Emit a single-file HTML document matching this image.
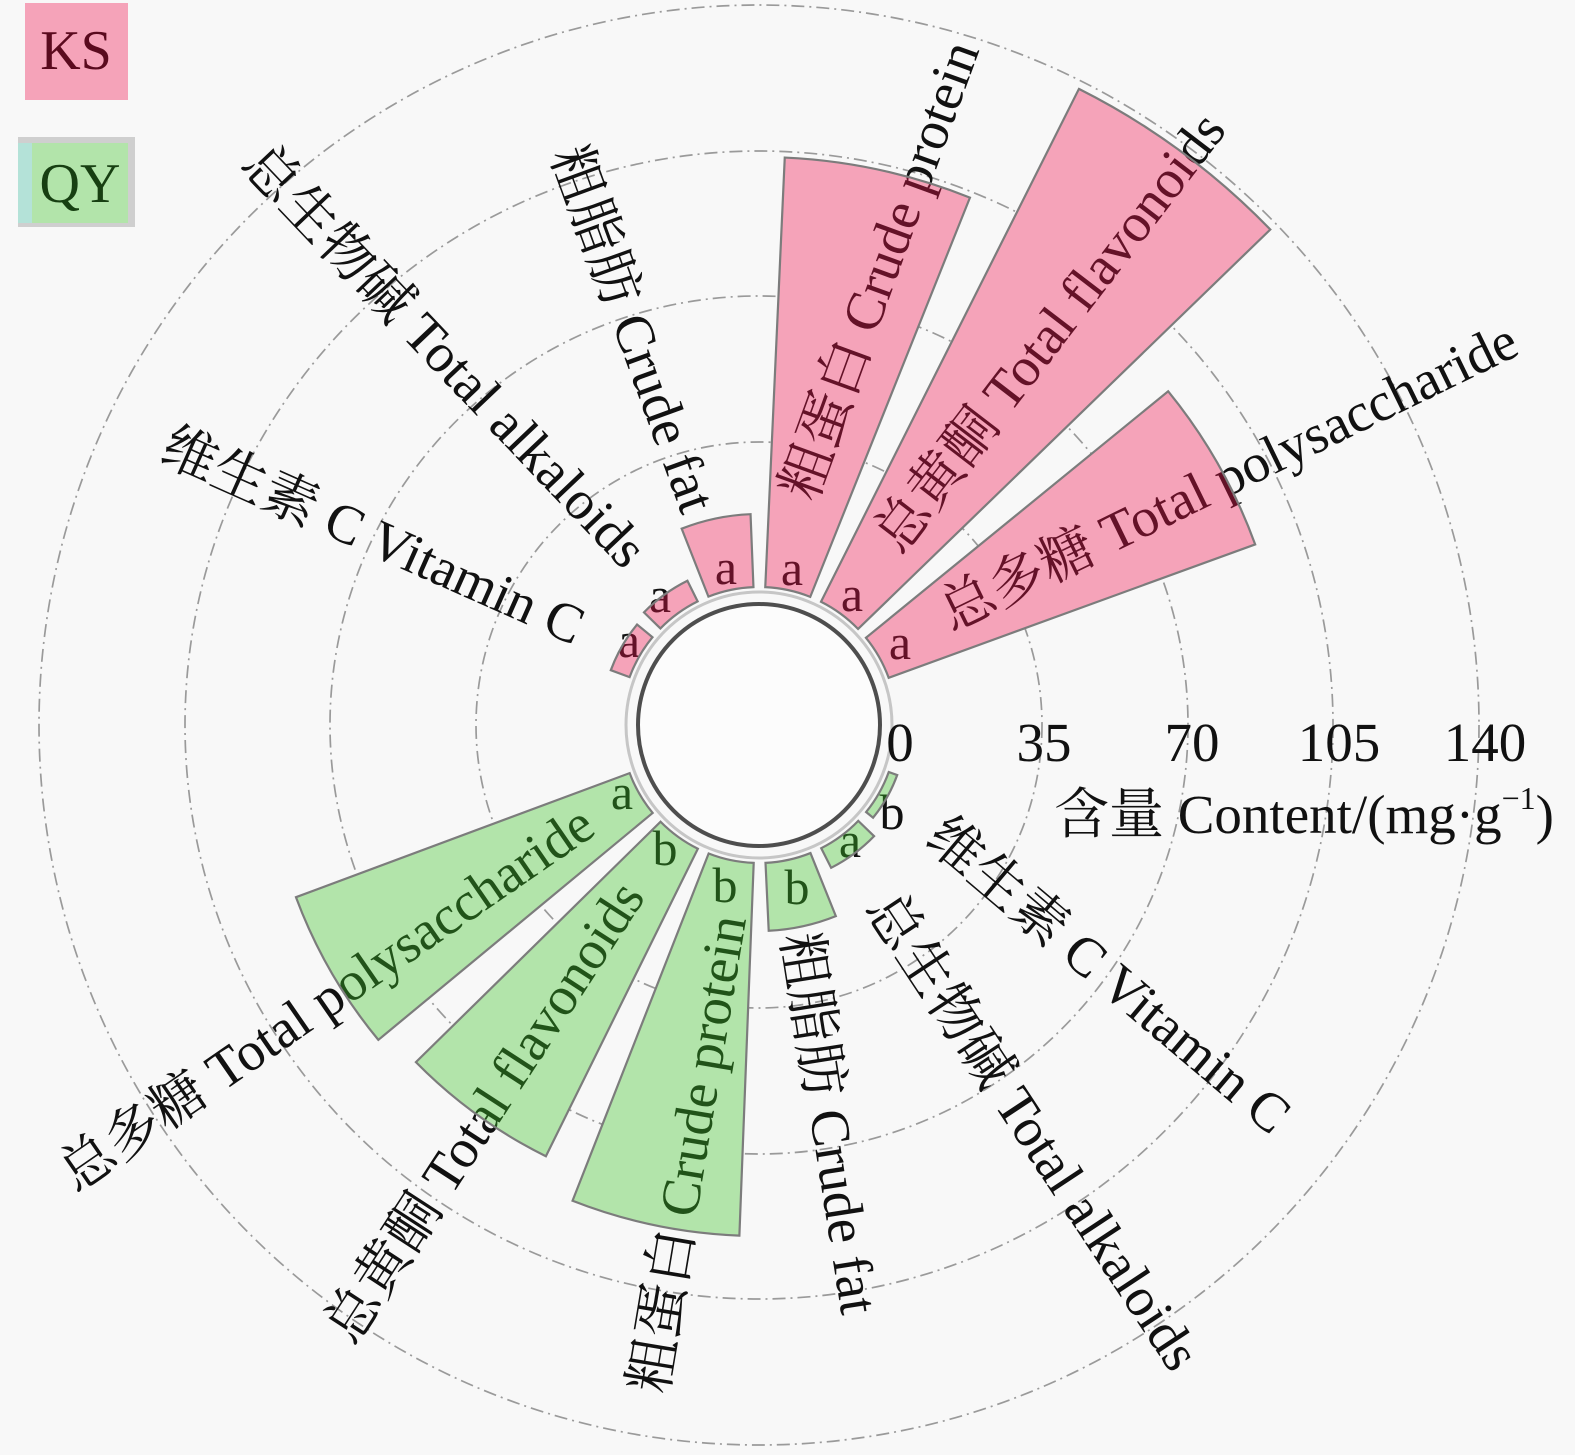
<!DOCTYPE html>
<html>
<head>
<meta charset="utf-8">
<style>
  html,body{margin:0;padding:0;background:#f8f8f8;}
  svg{display:block;}
  text{font-family:"Liberation Serif","Noto Serif CJK SC","Noto Sans CJK SC",serif;}
</style>
</head>
<body>
<svg width="1575" height="1455" viewBox="0 0 1575 1455" xmlns="http://www.w3.org/2000/svg">
  <defs>
    <!-- KS bars -->
    <path id="k1" transform="translate(759 725) rotate(-29.6)" d="M136.07 -23.01 L520.61 -88.05 A528 528 0 0 1 520.61 88.05 L136.07 23.01 A138 138 0 0 0 136.07 -23.01 Z"/>
    <path id="k2" transform="translate(759 725) rotate(-53.7)" d="M136.07 -23.01 L702.03 -118.74 A712 712 0 0 1 702.03 118.74 L136.07 23.01 A138 138 0 0 0 136.07 -23.01 Z"/>
    <path id="k3" transform="translate(759 725) rotate(-77.8)" d="M136.07 -23.01 L560.05 -94.73 A568 568 0 0 1 560.05 94.73 L136.07 23.01 A138 138 0 0 0 136.07 -23.01 Z"/>
    <path id="k4" transform="translate(759 725) rotate(-101.9)" d="M136.07 -23.01 L208.05 -35.19 A211 211 0 0 1 208.05 35.19 L136.07 23.01 A138 138 0 0 0 136.07 -23.01 Z"/>
    <path id="k5" transform="translate(759 725) rotate(-126.0)" d="M136.07 -23.01 L158.75 -26.85 A161 161 0 0 1 158.75 26.85 L136.07 23.01 A138 138 0 0 0 136.07 -23.01 Z"/>
    <path id="k6" transform="translate(759 725) rotate(-150.1)" d="M136.07 -23.01 L155.79 -26.35 A158 158 0 0 1 155.79 26.35 L136.07 23.01 A138 138 0 0 0 136.07 -23.01 Z"/>
    <!-- QY bars -->
    <path id="q1" transform="translate(759 725) rotate(-210)" d="M136.07 -23.01 L487.08 -82.38 A494 494 0 0 1 487.08 82.38 L136.07 23.01 A138 138 0 0 0 136.07 -23.01 Z"/>
    <path id="q2" transform="translate(759 725) rotate(-234.1)" d="M136.07 -23.01 L474.27 -80.22 A481 481 0 0 1 474.27 80.22 L136.07 23.01 A138 138 0 0 0 136.07 -23.01 Z"/>
    <path id="q3" transform="translate(759 725) rotate(-258.2)" d="M136.07 -23.01 L503.85 -85.22 A511 511 0 0 1 503.85 85.22 L136.07 23.01 A138 138 0 0 0 136.07 -23.01 Z"/>
    <path id="q4" transform="translate(759 725) rotate(-282.3)" d="M136.07 -23.01 L203.12 -34.35 A206 206 0 0 1 203.12 34.35 L136.07 23.01 A138 138 0 0 0 136.07 -23.01 Z"/>
    <path id="q5" transform="translate(759 725) rotate(-306.4)" d="M136.07 -23.01 L157.76 -26.68 A160 160 0 0 1 157.76 26.68 L136.07 23.01 A138 138 0 0 0 136.07 -23.01 Z"/>
    <path id="q6" transform="translate(759 725) rotate(-330.5)" d="M136.07 -23.01 L144.94 -24.52 A147 147 0 0 1 144.94 24.52 L136.07 23.01 A138 138 0 0 0 136.07 -23.01 Z"/>
  </defs>

  <rect x="0" y="0" width="1575" height="1455" fill="#f8f8f8"/>

  <!-- grid circles -->
  <g fill="none" stroke="#9a9a9a" stroke-width="1.7" stroke-dasharray="13 5 2 5">
    <circle cx="759" cy="725" r="283"/>
    <circle cx="759" cy="725" r="429"/>
    <circle cx="759" cy="725" r="574"/>
    <circle cx="759" cy="725" r="720"/>
  </g>
  <circle cx="759" cy="725" r="133" fill="none" stroke="#c6c6c6" stroke-width="3"/>

  <!-- opaque bar backgrounds (hide grid) -->
  <g fill="#f8f8f8">
    <use href="#k1"/><use href="#k2"/><use href="#k3"/><use href="#k4"/><use href="#k5"/><use href="#k6"/>
    <use href="#q1"/><use href="#q2"/><use href="#q3"/><use href="#q4"/><use href="#q5"/><use href="#q6"/>
  </g>

  <!-- category labels -->
  <g font-size="55" fill="#111" text-anchor="start">
    <!-- KS (upper) -->
    <text transform="translate(943 615) rotate(-26)" dy=".34em">总多糖 Total polysaccharide</text>
    <text transform="translate(886 545) rotate(-52.5)" dy=".34em">总黄酮 Total flavonoids</text>
    <text transform="translate(797 497) rotate(-70)" dy=".34em">粗蛋白 Crude protein</text>
    <text transform="translate(568 148) rotate(70)" dy=".34em">粗脂肪 Crude fat</text>
    <text transform="translate(253 153) rotate(46.5)" dy=".34em">总生物碱 Total alkaloids</text>
    <text transform="translate(165 443) rotate(24)" dy=".34em">维生素 C Vitamin C</text>
    <!-- QY (lower) -->
    <text transform="translate(65 1178) rotate(-34.6)" dy=".34em">总多糖 Total polysaccharide</text>
    <text transform="translate(338 1337) rotate(-57)" dy=".34em">总黄酮 Total flavonoids</text>
    <text transform="translate(648 1392) rotate(-80.5)" dy=".34em">粗蛋白 Crude protein</text>
    <text transform="translate(800 933) rotate(81)" dy=".34em">粗脂肪 Crude fat</text>
    <text transform="translate(880 898) rotate(56.6)" dy=".34em">总生物碱 Total alkaloids</text>
    <text transform="translate(935 828) rotate(40.2)" dy=".34em">维生素 C Vitamin C</text>
  </g>

  <!-- significance letters -->
  <g font-size="50" fill="#111" text-anchor="middle">
    <text x="629" y="657">a</text>
    <text x="660" y="612">a</text>
    <text x="726" y="584">a</text>
    <text x="792" y="585">a</text>
    <text x="852" y="611">a</text>
    <text x="900" y="659">a</text>
    <text x="622" y="809">a</text>
    <text x="665" y="865">b</text>
    <text x="725" y="902">b</text>
    <text x="797" y="904">b</text>
    <text x="850" y="857">a</text>
    <text x="892" y="829">b</text>
  </g>

  <!-- translucent bar tints -->
  <g fill="rgb(240,21,80)" fill-opacity="0.375">
    <use href="#k1"/><use href="#k2"/><use href="#k3"/><use href="#k4"/><use href="#k5"/><use href="#k6"/>
  </g>
  <g fill="rgb(61,195,40)" fill-opacity="0.375">
    <use href="#q1"/><use href="#q2"/><use href="#q3"/><use href="#q4"/><use href="#q5"/><use href="#q6"/>
  </g>
  <!-- bar outlines -->
  <g fill="none" stroke="#7c7c7c" stroke-width="2.2" stroke-linejoin="miter">
    <use href="#k1"/><use href="#k2"/><use href="#k3"/><use href="#k4"/><use href="#k5"/><use href="#k6"/>
    <use href="#q1"/><use href="#q2"/><use href="#q3"/><use href="#q4"/><use href="#q5"/><use href="#q6"/>
  </g>

  <!-- inner circle -->
  <circle cx="759" cy="725" r="121" fill="#fcfcfc" stroke="#4e4e4e" stroke-width="4"/>

  <!-- radial tick labels -->
  <g font-size="55" fill="#111" text-anchor="middle">
    <text x="900" y="761">0</text>
    <text x="1044" y="761">35</text>
    <text x="1192" y="761">70</text>
    <text x="1339" y="761">105</text>
    <text x="1485" y="761">140</text>
  </g>
  <text x="1054" y="833" font-size="55" fill="#111">含量 Content/(mg·g<tspan font-size="32" dy="-24">−1</tspan><tspan dy="24">)</tspan></text>

  <!-- legend -->
  <rect x="25" y="3" width="103" height="97" fill="#f5a3b9"/>
  <text x="76" y="69" font-size="56" fill="#5a0a1e" text-anchor="middle">KS</text>
  <rect x="18" y="137" width="117" height="90" fill="#cfcfcf"/>
  <rect x="18" y="143" width="14" height="80" fill="#b4e2d8"/>
  <rect x="32" y="143" width="96" height="80" fill="#b2e4aa"/>
  <text x="80" y="202" font-size="56" fill="#173f12" text-anchor="middle">QY</text>
</svg>
</body>
</html>
